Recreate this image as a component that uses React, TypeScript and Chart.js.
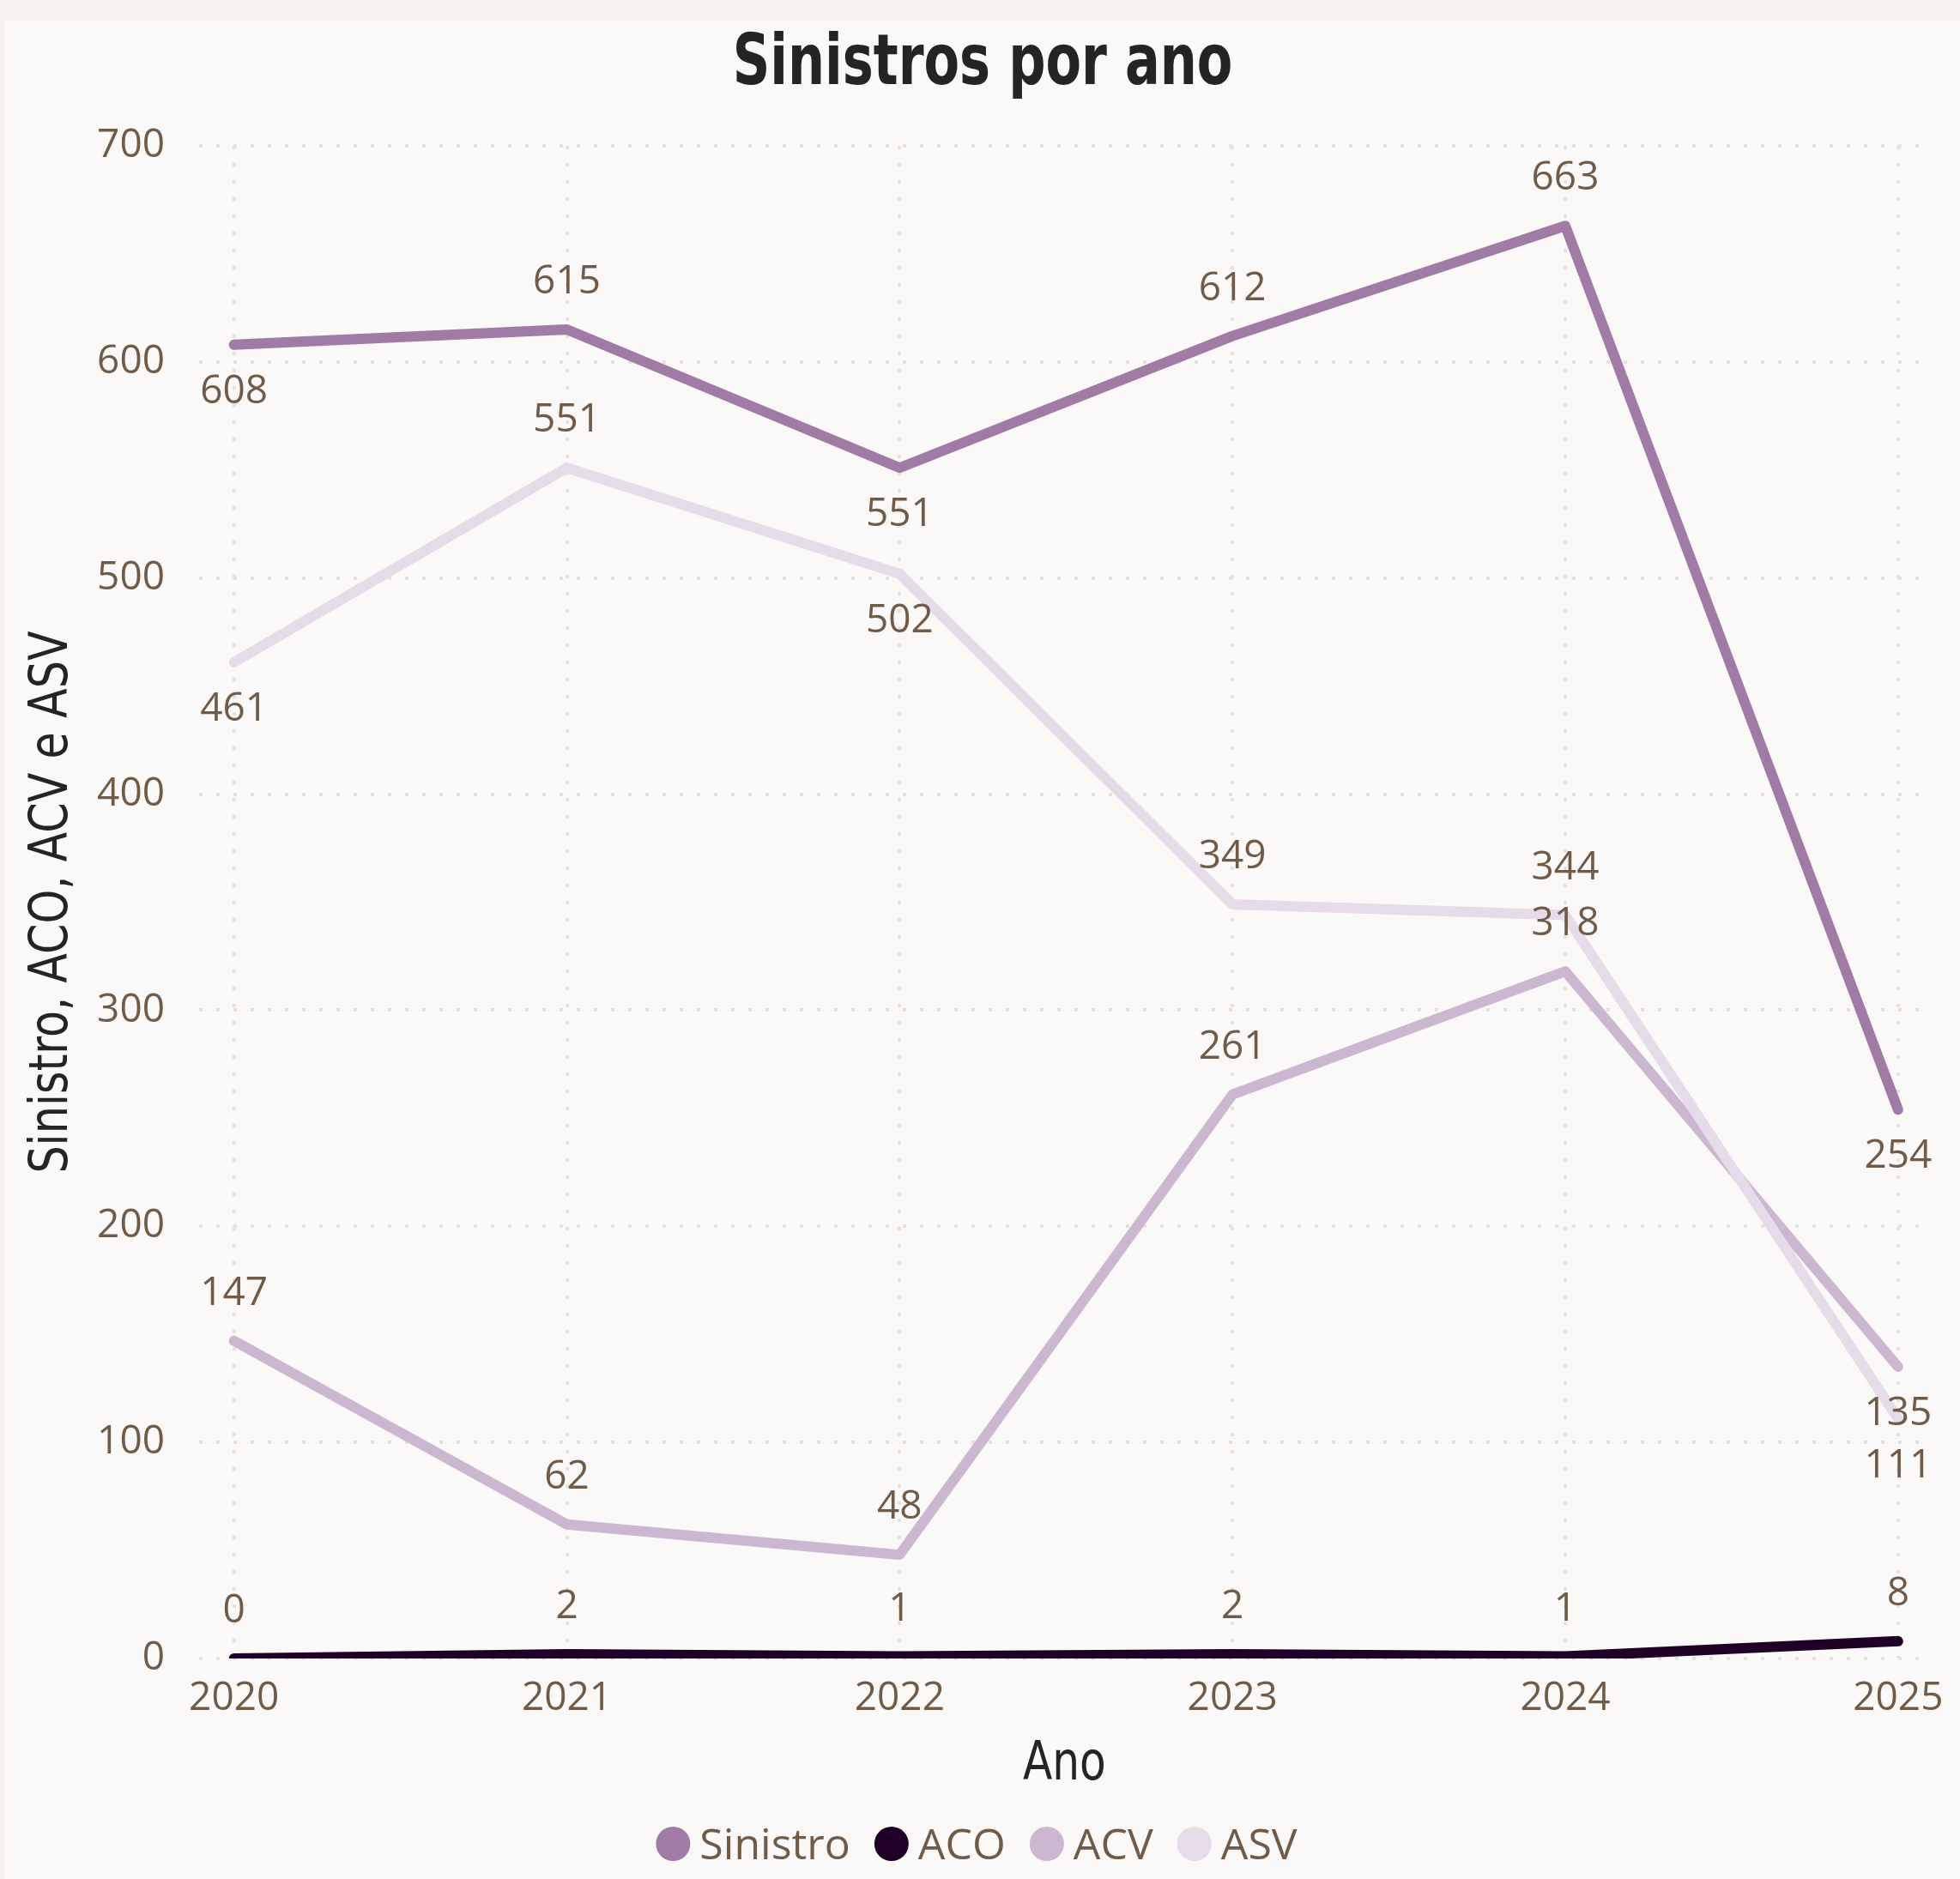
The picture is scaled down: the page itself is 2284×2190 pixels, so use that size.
import { useEffect, useRef } from "react";
import { Chart, registerables } from "chart.js";

Chart.register(...registerables);

// ---------- data ----------
const YEARS = [2020, 2021, 2022, 2023, 2024, 2025];
const SINISTRO = [608, 615, 551, 612, 663, 254];
const ACO = [0, 2, 1, 2, 1, 8];
const ACV = [147, 62, 48, 261, 318, 135];
const ASV = [461, 551, 502, 349, 344, 111];
const SERIES_NAMES = ["Sinistro", "ACO", "ACV", "ASV"];
const Y_TICKS = [0, 100, 200, 300, 400, 500, 600, 700];

// label placement (style): "a" above, "b" below
const LABEL_SIDES = [
  ["b", "a", "b", "a", "a", "b"],
  ["a", "a", "a", "a", "a", "a"],
  ["a", "a", "a", "a", "a", "b"],
  ["b", "a", "b", "a", "a", "b"],
];

const TITLE = "Sinistros por ano";
const Y_TITLE = "Sinistro, ACO, ACV e ASV";
const X_TITLE = "Ano";

// ---------- style ----------
const W = 2284;
const H = 2190;
const COLORS = ["#A07BA6", "#1F0026", "#CBB7D0", "#E5DBE9"];
const TEXT = "#705A48";
const DARK = "#252423";
const GRID = "#E7E2DD";
const BODY_FONT = "'Open Sans', 'Noto Sans', sans-serif";
const COND_FONT = "'DejaVu Sans Condensed', 'DejaVu Sans', sans-serif";

const decorPlugin = {
  id: "decor",
  beforeDraw(chart: any) {
    const ctx = chart.ctx;
    ctx.save();
    ctx.fillStyle = "#F6F2EF";
    ctx.fillRect(0, 0, W, H);
    ctx.fillStyle = "#FBF9F7";
    ctx.fillRect(5, 24, W - 5, H - 24);
    ctx.restore();
  },
  afterDraw(chart: any) {
    const ctx = chart.ctx;
    const area = chart.chartArea;
    ctx.save();
    ctx.fillStyle = DARK;
    ctx.textAlign = "center";
    ctx.textBaseline = "alphabetic";
    // title (condensed)
    ctx.save();
    ctx.translate(1145, 98);
    ctx.scale(0.82, 1);
    ctx.font = `bold 82px ${COND_FONT}`;
    ctx.fillText(TITLE, 0, 0);
    ctx.restore();
    // x title
    ctx.save();
    ctx.translate((area.left + area.right) / 2, 2074);
    ctx.scale(0.9, 1);
    ctx.font = `62px ${COND_FONT}`;
    ctx.fillText(X_TITLE, 0, 0);
    ctx.restore();
    // y title
    ctx.save();
    ctx.translate(78, (area.top + area.bottom) / 2);
    ctx.rotate(-Math.PI / 2);
    ctx.scale(0.91, 1);
    ctx.font = `62px ${COND_FONT}`;
    ctx.fillText(Y_TITLE, 0, 0);
    ctx.restore();
    // legend
    ctx.font = `50px ${BODY_FONT}`;
    const d = 40;
    const gap = 11;
    const itemGap = 28;
    const widths = SERIES_NAMES.map((n) => ctx.measureText(n).width);
    const total = widths.reduce((s, w) => s + d + gap + w, 0) + itemGap * (SERIES_NAMES.length - 1);
    let x = 1138 - total / 2;
    const cy = 2149;
    ctx.textAlign = "left";
    SERIES_NAMES.forEach((n, i) => {
      ctx.fillStyle = COLORS[i];
      ctx.beginPath();
      ctx.arc(x + d / 2, cy, d / 2, 0, Math.PI * 2);
      ctx.fill();
      ctx.fillStyle = TEXT;
      ctx.fillText(n, x + d + gap, cy + 18);
      x += d + gap + widths[i] + itemGap;
    });
    ctx.restore();
  },
};

const labelPlugin = {
  id: "valueLabels",
  afterDatasetsDraw(chart: any) {
    const ctx = chart.ctx;
    ctx.save();
    ctx.font = `46px ${BODY_FONT}`;
    ctx.fillStyle = TEXT;
    ctx.textAlign = "center";
    ctx.textBaseline = "middle";
    chart.data.datasets.forEach((ds: any, di: number) => {
      const meta = chart.getDatasetMeta(di);
      meta.data.forEach((pt: any, i: number) => {
        const dy = LABEL_SIDES[di][i] === "a" ? -55 : 55;
        ctx.fillText(String(ds.data[i].y), pt.x, pt.y + dy);
      });
    });
    ctx.restore();
  },
};

export default function App() {
  const ref = useRef<HTMLCanvasElement | null>(null);
  useEffect(() => {
    document.body.style.margin = "0";
    const canvas = ref.current;
    if (!canvas) return;
    const seriesValues = [SINISTRO, ACO, ACV, ASV];
    const chart = new Chart(canvas, {
      type: "line",
      data: {
        datasets: seriesValues.map((vals, i) => ({
          label: SERIES_NAMES[i],
          data: vals.map((v, j) => ({ x: YEARS[j], y: v })),
          borderColor: COLORS[i],
          backgroundColor: COLORS[i],
          borderWidth: 12,
          borderCapStyle: "round",
          borderJoinStyle: "round",
          pointRadius: 0,
          tension: 0,
          order: 3 - i,
        })),
      },
      plugins: [decorPlugin, labelPlugin],
      options: {
        responsive: false,
        animation: false,
        devicePixelRatio: 1,
        layout: { padding: { left: 0, right: 31, top: 170, bottom: 0 } },
        plugins: {
          legend: { display: false },
          title: { display: false },
          tooltip: { enabled: false },
        },
        scales: {
          x: {
            type: "linear",
            min: 2019.895,
            max: 2025.095,
            afterFit: (s: any) => {
              s.height = H - 1933;
            },
            afterBuildTicks: (s: any) => {
              s.ticks = YEARS.map((v) => ({ value: v }));
            },
            grid: { color: GRID, lineWidth: 4, drawTicks: false },
            border: { display: false, dash: [4, 16] },
            ticks: {
              padding: 19,
              color: TEXT,
              font: { family: BODY_FONT, size: 46 },
              callback: (v: any) => String(v),
            },
          },
          y: {
            type: "linear",
            min: 0,
            max: 700,
            afterFit: (s: any) => {
              s.width = 232;
            },
            afterBuildTicks: (s: any) => {
              s.ticks = Y_TICKS.map((v) => ({ value: v }));
            },
            grid: { color: GRID, lineWidth: 4, drawTicks: false },
            border: { display: false, dash: [4, 16] },
            ticks: {
              padding: 40,
              color: TEXT,
              font: { family: BODY_FONT, size: 46 },
              callback: (v: any) => String(v),
            },
          },
        },
      },
    } as any);
    return () => chart.destroy();
  }, []);
  return (
    <div style={{ width: W, height: H }}>
      <canvas ref={ref} width={W} height={H} style={{ display: "block" }} />
    </div>
  );
}
